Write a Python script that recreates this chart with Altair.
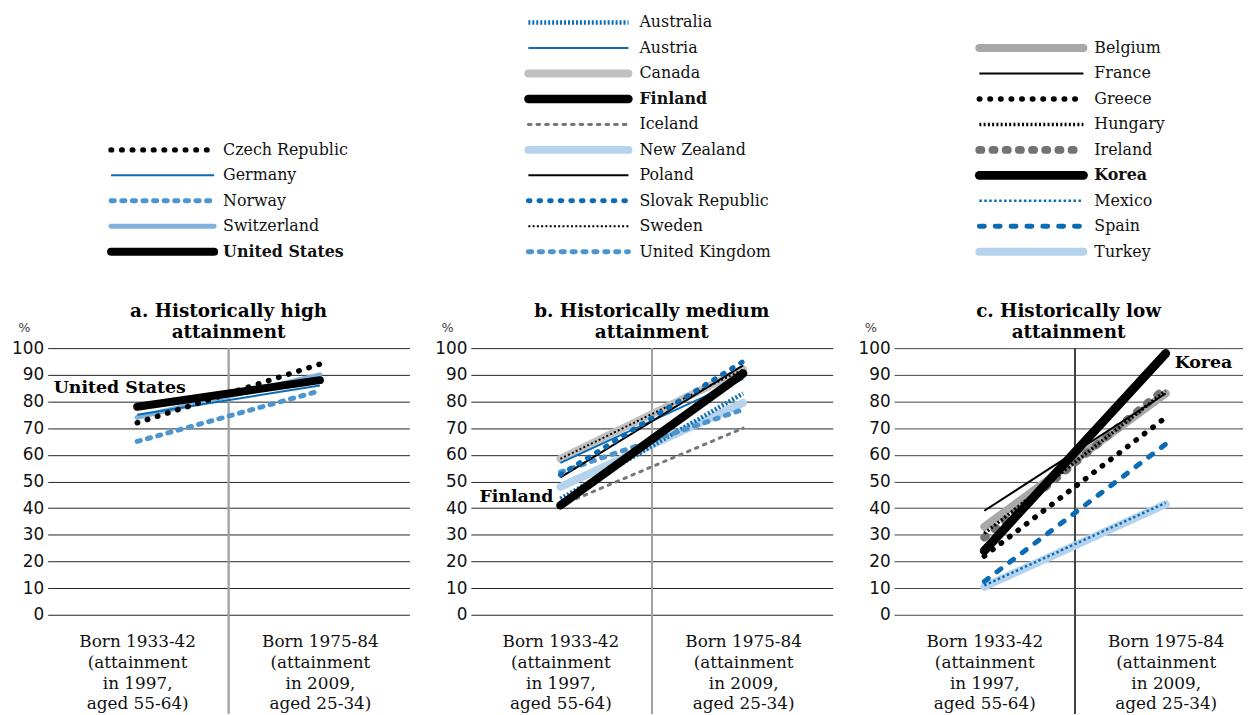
import altair as alt
import pandas as pd

# ---------------- data ----------------
cohorts = ["Born 1933-42|(attainment|in 1997,|aged 55-64)",
           "Born 1975-84|(attainment|in 2009,|aged 25-34)"]

high_countries = ["Switzerland", "Germany", "Norway", "Czech Republic", "United States"]
high_1997 = [74, 75, 65, 72, 78]
high_2009 = [90, 86, 84, 94, 88]

medium_countries = ["Canada", "New Zealand", "Iceland", "Austria", "Australia",
                    "United Kingdom", "Sweden", "Poland", "Slovak Republic", "Finland"]
medium_1997 = [58.5, 48, 41, 57, 43.5, 53.5, 58.5, 51.5, 52.5, 41]
medium_2009 = [92, 79.5, 70, 88.5, 83, 77, 92, 93.5, 95, 90.5]

low_countries = ["Belgium", "Turkey", "Ireland", "Hungary", "France",
                 "Greece", "Spain", "Mexico", "Korea"]
low_1997 = [33, 10.5, 29, 30.5, 39, 22, 12.5, 11, 24]
low_2009 = [83, 41.5, 85, 84, 83, 74, 64, 42, 98]

legend_high = ["Czech Republic", "Germany", "Norway", "Switzerland", "United States"]
legend_medium = ["Australia", "Austria", "Canada", "Finland", "Iceland", "New Zealand",
                 "Poland", "Slovak Republic", "Sweden", "United Kingdom"]
legend_low = ["Belgium", "France", "Greece", "Hungary", "Ireland", "Korea",
              "Mexico", "Spain", "Turkey"]
highlighted = ["United States", "Finland", "Korea"]

panel_titles = [["a. Historically high", "attainment"],
                ["b. Historically medium", "attainment"],
                ["c. Historically low", "attainment"]]
y_ticks = [0, 10, 20, 30, 40, 50, 60, 70, 80, 90, 100]

# ---------------- styles ----------------
BLACK = "#000000"
DBLUE = "#0b6cb5"
MBLUE = "#4d95cf"
LBLUE = "#7fb1dc"
VLBLUE = "#b5d3ec"

style = {
    "Czech Republic": (BLACK, 5.5, [0.5, 10.2], "round"),
    "Germany": (DBLUE, 2, None, "butt"),
    "Norway": (MBLUE, 5, [3.3, 7.4], "round"),
    "Switzerland": (LBLUE, 5, None, "round"),
    "United States": (BLACK, 8, None, "round"),
    "Australia": (DBLUE, 4.5, [2, 2], "butt"),
    "Austria": (DBLUE, 2, None, "butt"),
    "Canada": ("#c0c0c0", 8, None, "round"),
    "Finland": (BLACK, 8.5, None, "round"),
    "Iceland": ("#777777", 3, [2.7, 6], "round"),
    "New Zealand": (VLBLUE, 8, None, "round"),
    "Poland": (BLACK, 2, None, "butt"),
    "Slovak Republic": (DBLUE, 5, [1.7, 9], "round"),
    "Sweden": (BLACK, 2, [2, 2.3], "butt"),
    "United Kingdom": (MBLUE, 5, [3.3, 7.7], "round"),
    "Belgium": ("#a8a8aa", 8, None, "round"),
    "France": (BLACK, 2, None, "butt"),
    "Greece": (BLACK, 5.5, [0.5, 10.2], "round"),
    "Hungary": (BLACK, 3.5, [2, 2.3], "butt"),
    "Ireland": ("#737373", 8, [2, 11.3], "round"),
    "Korea": (BLACK, 9, None, "round"),
    "Mexico": (DBLUE, 2.5, [2.5, 2.5], "butt"),
    "Spain": (DBLUE, 5, [5, 11], "round"),
    "Turkey": (VLBLUE, 8, None, "round"),
}

SERIF = "DejaVu Serif"
SANS = "DejaVu Sans"
H = 269

xaxis_common = dict(title=None, domain=False, ticks=False, grid=False,
                    labelAngle=0, labelFont=SERIF, labelFontSize=17,
                    labelColor="#111", labelLineHeight=21,
                    labelBaseline="top", labelPadding=19)


def line_props(country):
    color, width, dash, cap = style[country]
    props = dict(color=color, strokeWidth=width, strokeCap=cap)
    if dash:
        props["strokeDash"] = dash
    return props


def make_panel(countries, v1, v2, title, highlight, lab, grid_color, div_color,
               width, x_domain=None):
    rows = []
    for c, a, b in zip(countries, v1, v2):
        rows.append({"country": c, "cohort": cohorts[0], "pos": 0, "value": a})
        rows.append({"country": c, "cohort": cohorts[1], "pos": 1, "value": b})
    df = pd.DataFrame(rows)
    base = alt.Chart(df)
    if x_domain is None:
        xenc = alt.X("cohort:N", sort=cohorts,
                     scale=alt.Scale(type="point", padding=0.49),
                     axis=alt.Axis(labelExpr="split(datum.label, '|')", **xaxis_common))
        divider_x = width / 2
    else:
        expr = "split(datum.value < 0.5 ? '%s' : '%s', '|')" % (cohorts[0], cohorts[1])
        xenc = alt.X("pos:Q", scale=alt.Scale(domain=x_domain, nice=False, zero=False),
                     axis=alt.Axis(values=[0, 1], labelExpr=expr, labelFlush=False,
                                   labelOverlap=False, **xaxis_common))
        divider_x = width * (0.5 - x_domain[0]) / (x_domain[1] - x_domain[0])
    yenc = alt.Y("value:Q", scale=alt.Scale(domain=[0, 100], nice=False),
                 axis=alt.Axis(values=y_ticks, title="%", titleAngle=0,
                               titleX=-24, titleY=-21, titleAlign="center",
                               titleBaseline="middle", titleFont=SANS,
                               titleFontSize=13, titleFontWeight="normal",
                               titleColor="#444", domain=False, ticks=False,
                               grid=True, gridColor=grid_color, gridWidth=1,
                               gridOpacity=1, labelFont=SANS, labelFontSize=17,
                               labelColor="#111", labelPadding=4,
                               labelOverlap=False))
    grid = base.mark_rule(opacity=0).encode(x=xenc, y=yenc)
    divider = base.mark_rule(color=div_color, strokeWidth=1.2).encode(
        x=alt.value(divider_x), y=alt.value(0), y2=alt.value(H + 100))
    layers = [grid, divider]
    for c in countries:
        layers.append(
            base.transform_filter(alt.datum.country == c)
            .mark_line(**line_props(c))
            .encode(x=xenc, y=yenc)
        )
    idx, align, dx, dy = lab
    label_df = df[(df.country == highlight) & (df.cohort == cohorts[idx])]
    layers.append(
        alt.Chart(label_df).mark_text(font=SERIF, fontWeight="bold", fontSize=17.5,
                                       align=align, baseline="middle", dx=dx, dy=dy,
                                       color=BLACK)
        .encode(x=xenc, y=yenc, text="country:N")
    )
    return alt.layer(*layers).properties(
        width=width, height=H,
        title=alt.TitleParams(title, font=SERIF, fontSize=18.5, fontWeight="bold",
                              anchor="middle", frame="group", lineHeight=21,
                              offset=-20, color=BLACK))


# ---------------- legend ----------------
leg_rows = []
groups = [(legend_high, 10 - len(legend_high), 64, 168, 177),
          (legend_medium, 0, 485, 586, 597),
          (legend_low, 10 - len(legend_low), 940, 1045, 1056)]
for names, start, x0, x1, xt in groups:
    for i, n in enumerate(names):
        leg_rows.append({"country": n, "row": start + i})
leg_df = pd.DataFrame(leg_rows)
leg_base = alt.Chart(leg_df)
yleg = alt.Y("row:Q", scale=alt.Scale(domain=[-0.447, 9.592], reverse=True, nice=False,
                                      zero=False), axis=None)
leg_layers = []
for names, start, x0, x1, xt in groups:
    for n in names:
        sub = leg_base.transform_filter(alt.datum.country == n)
        leg_layers.append(sub.mark_rule(**line_props(n)).encode(
            x=alt.value(x0), x2=alt.value(x1), y=yleg))
        leg_layers.append(sub.mark_text(
            font=SERIF, fontSize=16, align="left", baseline="middle", color="#111",
            fontWeight="bold" if n in highlighted else "normal").encode(
            x=alt.value(xt), y=yleg, text="country:N"))
legend = alt.layer(*leg_layers).properties(width=1120, height=258)

panel_a = make_panel(high_countries, high_1997, high_2009, panel_titles[0],
                     "United States", (0, "right", 49, -19), "#222", "#a0a0a0", 365)
panel_b = make_panel(medium_countries, medium_1997, medium_2009, panel_titles[1],
                     "Finland", (0, "right", -7, -8), "#222", "#a0a0a0", 365)
panel_c = make_panel(low_countries, low_1997, low_2009, panel_titles[2],
                     "Korea", (1, "left", 9, 10), "#444", "#444", 352,
                     x_domain=[-0.497, 1.426])

panels = alt.hconcat(panel_a, panel_b, panel_c, spacing=25)
chart = alt.vconcat(legend, panels, spacing=35).properties(
    padding={"left": 3, "top": 0, "right": 0, "bottom": 0}
).configure_view(strokeWidth=0)

chart.save("out.html", embed_options={"renderer": "svg", "actions": False})
